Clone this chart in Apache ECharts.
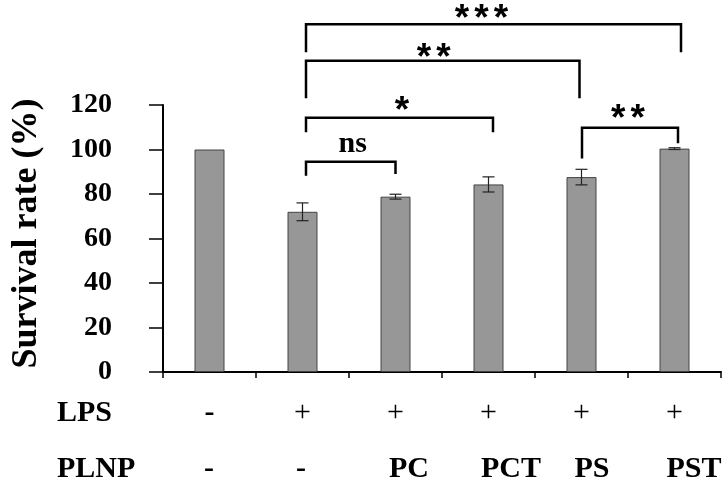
<!DOCTYPE html>
<html><head><meta charset="utf-8">
<script src="https://cdn.jsdelivr.net/npm/echarts@6/dist/echarts.min.js"></script>
<style>html,body{margin:0;padding:0;background:#fff}#c{width:727px;height:487px}</style>
</head><body><div id="c"></div>
<script>
// ---- data ----
const categories = ['G1', 'G2', 'G3', 'G4', 'G5', 'G6'];
const lpsLabels = ['-', '+', '+', '+', '+', '+'];
const plnpLabels = ['-', '-', 'PC', 'PCT', 'PS', 'PST'];
const survival = [100, 72, 78.8, 84.3, 87.6, 100.4];
const errLow = [null, 68, 77.7, 80.9, 84.1, 100.0];
const errHigh = [null, 76, 79.9, 87.7, 91.1, 100.8];
const yTicks = [0, 20, 40, 60, 80, 100, 120];
// significance brackets: [fromCategory, toCategory, barLevel, leftLegEnd, rightLegEnd]
const brackets = [
  [1, 2, 94.5, 88.2, 89.0],
  [1, 3, 114.3, 107.7, 107.7],
  [1, 4, 139.9, 123.0, 123.0],
  [1, 5, 156.3, 143.7, 143.7],
  [4, 5, 109.8, 96.0, 102.8]
];
const bracketLabels = ['ns', '*', '**', '***', '**'];

// ---- style (not data) ----
const bracketShift = [[3.5, 0], [3.5, 4.5], [3.5, -2], [3.5, 6.5], [0.5, 3.5]];
const labelDx = [2, 2.5, -9, -12, -2];
const labelGap = [17, 14, 10, 12, 16];
const plnpNudge = [-0.5, -1.5, 13.5, 22.5, 10.5, 19.5];
const serif = 'Liberation Serif';
const starPitch = 19.5;

const chart = echarts.init(document.getElementById('c'), null, {renderer: 'canvas'});

chart.setOption({
  animation: false,
  backgroundColor: '#fff',
  grid: {left: 163, right: 6, top: 105, bottom: 115, containLabel: false, outerBoundsMode: 'none'},
  xAxis: {
    type: 'category', data: categories, boundaryGap: true,
    axisLine: {lineStyle: {color: '#000', width: 2}},
    axisTick: {show: true, length: 6, lineStyle: {color: '#000', width: 1.5}},
    axisLabel: {
      margin: 26, interval: 0,
      formatter: (v, i) => lpsLabels[i] === '-' ? '{m|-}' : '{p|+}',
      rich: {
        m: {fontFamily: serif, fontWeight: 'bold', fontSize: 30, color: '#000'},
        p: {fontFamily: serif, fontWeight: 'normal', fontSize: 30, color: '#000'}
      }
    },
    splitLine: {show: false}
  },
  yAxis: {
    type: 'value', min: yTicks[0], max: yTicks[yTicks.length - 1], interval: 20,
    name: 'Survival rate (%)', nameLocation: 'middle', nameRotate: 90, nameGap: 118,
    nameTextStyle: {fontFamily: serif, fontWeight: 'bold', fontSize: 36, color: '#000', padding: [0, 0, 0, 10]},
    axisLine: {show: true, lineStyle: {color: '#000', width: 2}},
    axisTick: {show: true, inside: false, length: 14, lineStyle: {color: '#000', width: 1.5}},
    axisLabel: {margin: 51, fontFamily: serif, fontWeight: 'bold', fontSize: 28, color: '#000'},
    splitLine: {show: false}
  },
  series: [
    {
      type: 'bar', data: survival, barWidth: 30,
      itemStyle: {color: '#979797', borderColor: '#444', borderWidth: 1}
    },
    {
      type: 'custom', clip: false,
      data: survival.map((v, i) => [i, errLow[i], errHigh[i]]),
      renderItem: (params, api) => {
        const i = params.dataIndex;
        if (errLow[i] == null) return null;
        const lo = api.coord([i, errLow[i]]);
        const hi = api.coord([i, errHigh[i]]);
        const w = 6;
        const st = {stroke: '#222', lineWidth: 1.2};
        return {type: 'group', children: [
          {type: 'line', shape: {x1: lo[0], y1: lo[1], x2: hi[0], y2: hi[1]}, style: st},
          {type: 'line', shape: {x1: lo[0] - w, y1: lo[1], x2: lo[0] + w, y2: lo[1]}, style: st},
          {type: 'line', shape: {x1: hi[0] - w, y1: hi[1], x2: hi[0] + w, y2: hi[1]}, style: st}
        ]};
      },
      z: 5
    },
    {
      type: 'custom', clip: false,
      data: brackets.map(b => [b[0], b[2]]),
      renderItem: (params, api) => {
        const i = params.dataIndex;
        const b = brackets[i];
        const s = bracketShift[i];
        const a = api.coord([b[0], b[3]]);
        const p = api.coord([b[0], b[2]]);
        const q = api.coord([b[1], b[2]]);
        const c = api.coord([b[1], b[4]]);
        a[0] += s[0]; p[0] += s[0]; q[0] += s[1]; c[0] += s[1];
        const lab = bracketLabels[i];
        const cx = (p[0] + q[0]) / 2 + labelDx[i];
        const cy = p[1] - labelGap[i];
        const children = [
          {type: 'polyline', shape: {points: [a, p, q, c]}, style: {stroke: '#000', lineWidth: 2.5, fill: null}}
        ];
        if (lab.indexOf('*') >= 0) {
          const n = lab.length;
          for (let k = 0; k < n; k++) {
            children.push({type: 'text', x: cx + (k - (n - 1) / 2) * starPitch, y: cy + 8,
              style: {text: '*', fontFamily: 'Liberation Sans', fontWeight: 'bold', fontSize: 37,
                fill: '#000', align: 'center', verticalAlign: 'middle'}});
          }
        } else {
          children.push({type: 'text', x: cx, y: cy,
            style: {text: lab, fontFamily: serif, fontWeight: 'bold', fontSize: 30,
              fill: '#000', align: 'center', verticalAlign: 'middle'}});
        }
        return {type: 'group', children: children};
      },
      z: 6
    }
  ]
});

// row labels and PLNP row placed against the category positions
const gfx = [
  {type: 'text', left: 57, top: 398, style: {text: 'LPS', fontFamily: serif, fontWeight: 'bold', fontSize: 30, fill: '#000'}},
  {type: 'text', left: 57, top: 454, style: {text: 'PLNP', fontFamily: serif, fontWeight: 'bold', fontSize: 30, fill: '#000'}}
];
const axisY = chart.convertToPixel({yAxisIndex: 0}, 0);
plnpLabels.forEach((t, i) => {
  const x = chart.convertToPixel({xAxisIndex: 0}, i) + plnpNudge[i];
  gfx.push({type: 'text', x: x, y: axisY + 82,
    style: {text: t, fontFamily: serif, fontWeight: 'bold', fontSize: 30, fill: '#000', align: 'center', verticalAlign: 'top'}});
});
chart.setOption({graphic: gfx});
</script></body></html>
